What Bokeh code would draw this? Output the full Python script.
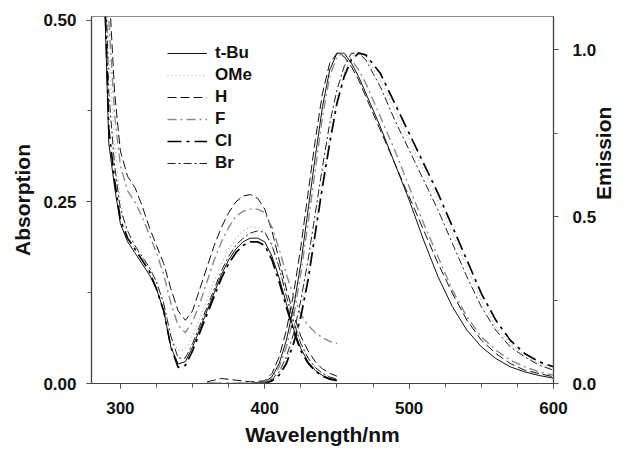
import math
from bokeh.plotting import figure
from bokeh.models import (Range1d, LinearAxis, FixedTicker, PrintfTickFormatter,
                          Legend, LegendItem)
from bokeh.embed import file_html
from bokeh.resources import INLINE

# ---------------- data ----------------
names = ["t-Bu", "OMe", "H", "F", "Cl", "Br"]

abs_wl = [284, 288, 292, 296, 300, 305, 310, 315, 320, 325, 330, 335, 340, 345,
          350, 355, 360, 365, 370, 375, 380, 385, 390, 395, 400, 405, 410, 415,
          420, 425, 430, 435, 440, 445, 450]

abs_tbu = [0.9, 0.6, 0.33, 0.27, 0.22, 0.195, 0.18, 0.165, 0.15, 0.13, 0.1, 0.05,
           0.027, 0.03, 0.05, 0.075, 0.1, 0.125, 0.15, 0.17, 0.185, 0.195, 0.2, 0.2,
           0.195, 0.175, 0.145, 0.11, 0.075, 0.048, 0.03, 0.018, 0.011, 0.007, 0.005]
abs_ome = [1.0, 0.7, 0.45, 0.33, 0.25, 0.2, 0.186, 0.175, 0.16, 0.14, 0.11, 0.065,
           0.045, 0.048, 0.065, 0.09, 0.115, 0.14, 0.165, 0.185, 0.2, 0.21, 0.215,
           0.215, 0.21, 0.19, 0.16, 0.12, 0.085, 0.055, 0.035, 0.022, 0.014, 0.009, 0.006]
abs_h = [1.2, 0.85, 0.55, 0.4, 0.32, 0.285, 0.27, 0.245, 0.215, 0.19, 0.165, 0.13,
         0.1, 0.087, 0.1, 0.13, 0.16, 0.19, 0.215, 0.235, 0.25, 0.258, 0.26, 0.255,
         0.24, 0.21, 0.17, 0.13, 0.095, 0.065, 0.045, 0.03, 0.02, 0.014, 0.01]
abs_f = [1.1, 0.8, 0.5, 0.37, 0.3, 0.265, 0.25, 0.23, 0.205, 0.18, 0.15, 0.11, 0.08,
         0.07, 0.085, 0.11, 0.14, 0.17, 0.195, 0.215, 0.23, 0.237, 0.24, 0.24, 0.235,
         0.215, 0.185, 0.15, 0.12, 0.095, 0.08, 0.07, 0.063, 0.058, 0.055]
abs_cl = [0.95, 0.62, 0.35, 0.28, 0.225, 0.2, 0.185, 0.17, 0.155, 0.13, 0.1, 0.05,
          0.022, 0.025, 0.045, 0.07, 0.095, 0.12, 0.145, 0.165, 0.18, 0.19, 0.195,
          0.195, 0.19, 0.17, 0.14, 0.105, 0.072, 0.045, 0.028, 0.017, 0.01, 0.006, 0.004]
abs_br = [1.0, 0.68, 0.4, 0.3, 0.24, 0.21, 0.19, 0.175, 0.16, 0.14, 0.11, 0.065,
          0.035, 0.035, 0.055, 0.08, 0.105, 0.13, 0.155, 0.175, 0.19, 0.2, 0.207,
          0.21, 0.208, 0.19, 0.16, 0.12, 0.085, 0.055, 0.035, 0.022, 0.014, 0.009, 0.006]

em_wl = [360, 370, 380, 390, 400, 405, 410, 415, 420, 425, 430, 435, 440, 445, 450,
         455, 460, 465, 470, 480, 490, 500, 510, 520, 530, 540, 550, 560, 570, 580,
         590, 600]

em_tbu = [0, 0, 0, 0, 0.005, 0.02, 0.06, 0.13, 0.23, 0.36, 0.52, 0.68, 0.83, 0.94,
          0.99, 0.99, 0.96, 0.92, 0.87, 0.77, 0.66, 0.55, 0.43, 0.32, 0.23, 0.16,
          0.11, 0.075, 0.05, 0.035, 0.024, 0.016]
em_ome = [0, 0, 0, 0, 0, 0.01, 0.03, 0.07, 0.13, 0.22, 0.33, 0.47, 0.61, 0.74, 0.85,
          0.93, 0.98, 0.995, 0.98, 0.91, 0.82, 0.73, 0.64, 0.55, 0.45, 0.35, 0.25,
          0.17, 0.12, 0.085, 0.06, 0.045]
em_h = [0.005, 0.015, 0.01, 0.005, 0.008, 0.03, 0.08, 0.16, 0.27, 0.41, 0.57, 0.73,
        0.87, 0.96, 0.99, 0.98, 0.95, 0.91, 0.86, 0.76, 0.66, 0.56, 0.46, 0.36, 0.27,
        0.19, 0.13, 0.09, 0.06, 0.04, 0.03, 0.02]
em_f = [0, 0, 0, 0, 0.003, 0.015, 0.05, 0.11, 0.2, 0.33, 0.48, 0.64, 0.8, 0.92, 0.98,
        0.99, 0.97, 0.94, 0.9, 0.8, 0.7, 0.59, 0.48, 0.38, 0.28, 0.2, 0.14, 0.1,
        0.07, 0.05, 0.035, 0.025]
em_cl = [0, 0, 0, 0, 0, 0.008, 0.025, 0.06, 0.12, 0.2, 0.31, 0.45, 0.59, 0.72, 0.84,
         0.92, 0.97, 0.99, 0.985, 0.93, 0.84, 0.75, 0.66, 0.57, 0.47, 0.37, 0.27,
         0.19, 0.13, 0.09, 0.065, 0.05]
em_br = [0, 0, 0, 0, 0, 0.012, 0.035, 0.08, 0.15, 0.25, 0.37, 0.51, 0.65, 0.78, 0.88,
         0.95, 0.99, 0.99, 0.97, 0.89, 0.79, 0.7, 0.61, 0.52, 0.42, 0.32, 0.23, 0.16,
         0.11, 0.08, 0.055, 0.04]

x_ticks = [300, 400, 500, 600]
x_minor = [275, 300, 325, 350, 375, 400, 425, 450, 475, 500, 525, 550, 575, 600]
left_ticks = [0.0, 0.25, 0.5]
left_minor = [0.0, 0.125, 0.25, 0.375, 0.5]
right_ticks = [0.0, 0.5, 1.0]
right_minor = [0.0, 0.25, 0.5, 0.75, 1.0]

abs_data = [abs_tbu, abs_ome, abs_h, abs_f, abs_cl, abs_br]
em_data = [em_tbu, em_ome, em_h, em_f, em_cl, em_br]

styles = [
    dict(line_color="#111111", line_width=1.0, line_dash="solid"),
    dict(line_color="#b0b0b0", line_width=1.2, line_dash="1 3"),
    dict(line_color="#111111", line_width=1.0, line_dash="9 4"),
    dict(line_color="#8a8a8a", line_width=1.4, line_dash="9 4 2 4"),
    dict(line_color="#000000", line_width=1.7, line_dash="14 5 3 5"),
    dict(line_color="#222222", line_width=1.0, line_dash="8 3 2 3"),
]

FONT = "Liberation Sans"

p = figure(width=629, height=452, output_backend="svg", toolbar_location=None,
           x_range=Range1d(280, 600), y_range=Range1d(0, 0.505),
           min_border_left=91, min_border_right=75, min_border_top=16,
           min_border_bottom=69)
p.extra_y_ranges = {"em": Range1d(0, 1.1)}
p.grid.visible = False
p.outline_line_color = "#8c8c8c"
p.outline_line_width = 1.2
p.background_fill_color = "white"
p.border_fill_color = "white"

# left axis
ya = p.yaxis[0]
ya.ticker = FixedTicker(ticks=left_ticks, minor_ticks=left_minor)
ya.formatter = PrintfTickFormatter(format="%.2f")
ya.axis_label = "Absorption"

# bottom axis
xa = p.xaxis[0]
xa.ticker = FixedTicker(ticks=x_ticks, minor_ticks=x_minor)
xa.axis_label = "Wavelength/nm"

# right axis
ra = LinearAxis(y_range_name="em", axis_label="Emission")
ra.ticker = FixedTicker(ticks=right_ticks, minor_ticks=right_minor)
ra.formatter = PrintfTickFormatter(format="%.1f")
ra.axis_label_orientation = math.pi / 2
p.add_layout(ra, "right")

for ax in [ya, xa, ra]:
    ax.axis_line_color = "#444444"
    ax.axis_line_width = 1.2
    ax.major_tick_line_color = "#333333"
    ax.minor_tick_line_color = "#555555"
    ax.major_tick_out = 5
    ax.major_tick_in = 0
    ax.minor_tick_out = 4
    ax.minor_tick_in = 0
    ax.major_label_text_font = FONT
    ax.major_label_text_font_style = "bold"
    ax.major_label_text_font_size = "17px"
    ax.major_label_text_color = "#111111"
    ax.axis_label_text_font = FONT
    ax.axis_label_text_font_style = "bold"
    ax.axis_label_text_font_size = "21px"
    ax.axis_label_text_color = "#111111"

ya.major_label_standoff = 10
ya.axis_label_standoff = 6
ra.major_label_standoff = 14
ra.axis_label_standoff = 4
xa.major_label_standoff = 13
xa.axis_label_standoff = 6

items = []
for name, a, e, st in zip(names, abs_data, em_data, styles):
    r1 = p.line(abs_wl, a, **st)
    p.line(em_wl, e, y_range_name="em", **st)
    items.append(LegendItem(label=name, renderers=[r1]))

legend = Legend(items=items, location=(76, 210))
legend.glyph_width = 40
legend.glyph_height = 20
legend.label_height = 20
legend.spacing = 2
legend.padding = 0
legend.margin = 0
legend.label_standoff = 8
legend.border_line_alpha = 0
legend.background_fill_alpha = 0
legend.label_text_font = FONT
legend.label_text_font_style = "bold"
legend.label_text_font_size = "17px"
legend.label_text_color = "#111111"
p.add_layout(legend)

open("out.html", "w").write(file_html(p, INLINE))
